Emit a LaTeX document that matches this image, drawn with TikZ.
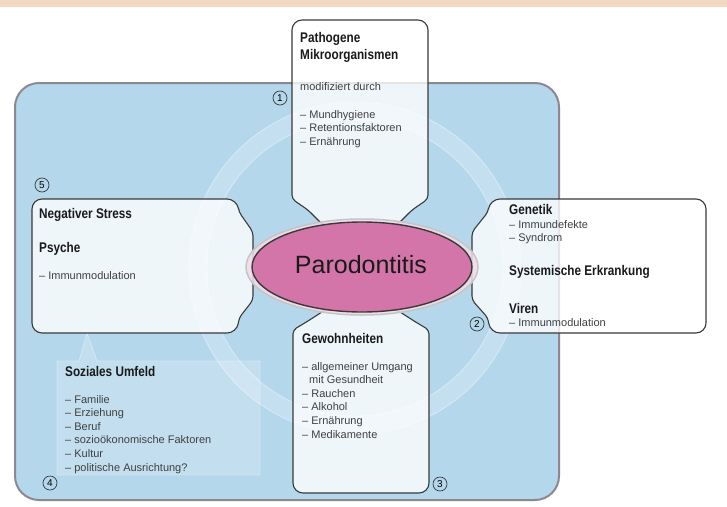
\documentclass[tikz,border=0pt]{standalone}
\usepackage{fontspec}
\setmainfont{Liberation Sans}
\newfontfamily\headfont{Liberation Sans}[FakeStretch=0.84]
\definecolor{band}{HTML}{F1D9C2}
\definecolor{field}{HTML}{B4D7EC}
\definecolor{fieldline}{HTML}{8C8791}
\definecolor{boxline}{HTML}{3A3A3A}
\definecolor{halo}{HTML}{F0DCE6}
\definecolor{haloline}{HTML}{C9C3C6}
\definecolor{disease}{HTML}{D475A9}
\definecolor{headtext}{HTML}{1A1A1A}
\definecolor{itemtext}{HTML}{404040}

\begin{document}
\begin{tikzpicture} [x=1pt,y=-1pt,
		factor/.style={draw=boxline,line width=1.1pt,fill=white,fill opacity=0.78},
		head/.style={anchor=base west,inner sep=0pt,text=headtext,font=\headfont\bfseries\fontsize{14}{16}\selectfont},
		item/.style={anchor=base west,inner sep=0pt,align=left,text=itemtext,font=\fontsize{11}{13.6}\selectfont},
		marker/.style={circle,draw=boxline,line width=0.7pt,inner sep=0pt,minimum size=14pt,font=\fontsize{10}{10}\selectfont},
		ring/.style={draw=white,draw opacity=0.22,line width=18pt},
		ring edge/.style={draw=white,draw opacity=0.4,line width=0.8pt}]

		\useasboundingbox (0,0) rectangle (727,506);
		\fill [band] (0,0) rectangle (727,7);
		\draw [fill=field,draw=fieldline,line width=2pt,rounded corners=24pt] (15,83) rectangle (559,500);

		\draw [ring] (355,268) circle [radius=157];
		\draw [ring edge] (355,268) circle [radius=148];
		\draw [ring edge] (355,268) circle [radius=166];

		\filldraw [fill=white,fill opacity=0.2,draw=white,draw opacity=0.35,line width=0.8pt]
			(57,361) -- (79,361) -- (87,333) -- (97,361) -- (260,361) -- (260,475) -- (57,475) -- cycle;

		\draw [factor] (360,225) [rounded corners=4pt] -- (323,225) -- (308,210) -- (292,199)
			[rounded corners=10pt] -- (292,20) -- (428,20) [rounded corners=4pt] -- (428,199) -- (412,210) -- (397,225) -- cycle;
		\draw [factor] (32,260) [rounded corners=10pt] -- (32,199) -- (237,199) [rounded corners=4pt] -- (239,212)
			-- (253,232) -- (253,300) -- (239,318) [rounded corners=10pt] -- (237,333) -- (32,333) -- cycle;
		\draw [factor] (706,260) [rounded corners=10pt] -- (706,199) -- (490,199) [rounded corners=4pt] -- (488,212)
			-- (472,232) -- (472,300) -- (488,318) [rounded corners=10pt] -- (490,333) -- (706,333) -- cycle;
		\draw [factor] (360,310) [rounded corners=4pt] -- (397,310) -- (414,321) -- (429,330)
			[rounded corners=10pt] -- (429,493) -- (293,493) [rounded corners=4pt] -- (293,330) -- (308,321) -- (325,310) -- cycle;

		\draw [fill=halo,fill opacity=0.85,draw=haloline,line width=1.5pt] (362,267) ellipse [x radius=116, y radius=48];
		\draw [fill=disease,draw=boxline,line width=1.4pt] (362,267) ellipse [x radius=110, y radius=45];
		\node [anchor=base,inner sep=0pt,text=headtext,font=\fontsize{25}{25}\selectfont] (paro) at (361,273) {Parodontitis};

		\node [head] (patho) at (300,42) {Pathogene};
		\node [head] (mikro) at (300,59) {Mikroorganismen};
		\node [item] (modif) at (300,90) {modifiziert durch};
		\node [item] (mikrolist) at (300,145.2) {– Mundhygiene\\– Retentionsfaktoren\\– Ernährung};

		\node [head] (stress) at (39,218) {Negativer Stress};
		\node [head] (psyche) at (39,252) {Psyche};
		\node [item] (psychelist) at (39,279) {– Immunmodulation};

		\node [head] (genetik) at (509,214) {Genetik};
		\node [item] (genlist) at (509,241.6) {– Immundefekte\\– Syndrom};
		\node [head] (system) at (509,275) {Systemische Erkrankung};
		\node [head] (viren) at (509,313) {Viren};
		\node [item] (virlist) at (509,326) {– Immunmodulation};

		\node [head] (gewohn) at (302,343) {Gewohnheiten};
		\node [item] (gewohnlist) at (302,438) {– allgemeiner Umgang\\\hspace*{7pt}mit Gesundheit\\– Rauchen\\– Alkohol\\– Ernährung\\– Medikamente};

		\node [head] (sozial) at (65,376) {Soziales Umfeld};
		\node [item] (soziallist) at (65,471) {– Familie\\– Erziehung\\– Beruf\\– sozioökonomische Faktoren\\– Kultur\\– politische Ausrichtung?};

		\node [marker] (m1) at (280,98) {1};
		\node [marker] (m2) at (477,324) {2};
		\node [marker] (m3) at (440,484) {3};
		\node [marker] (m4) at (50,483) {4};
		\node [marker] (m5) at (42,185) {5};

	\end{tikzpicture}
\end{document}
